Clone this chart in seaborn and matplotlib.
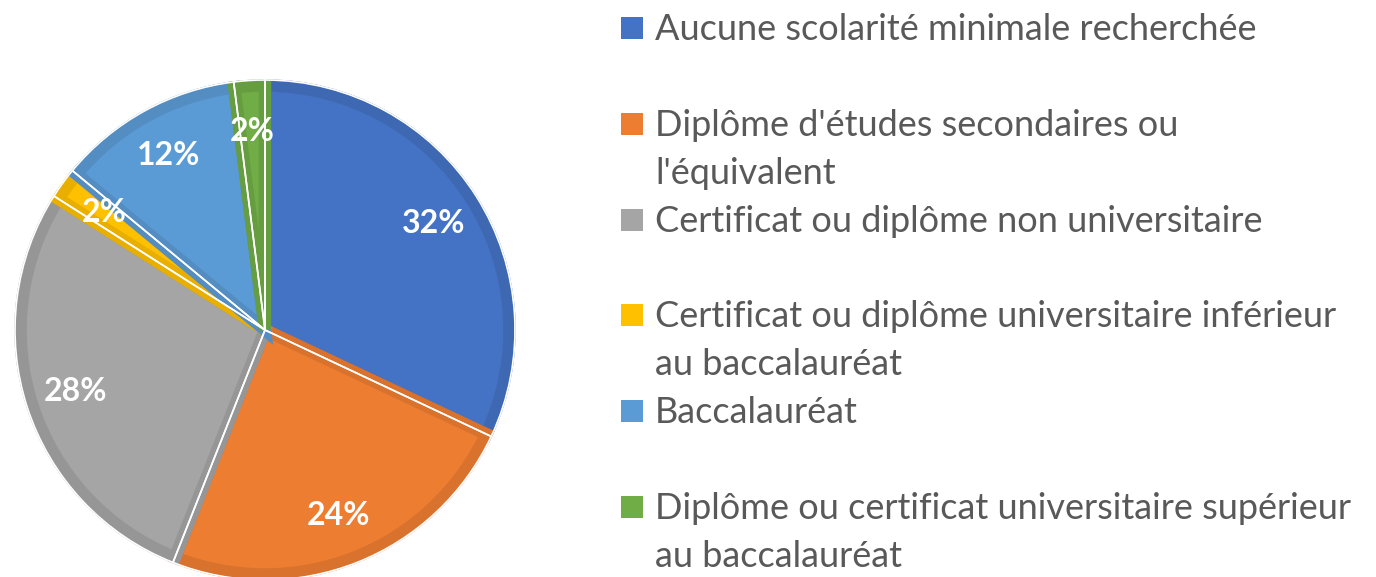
import matplotlib
matplotlib.use("Agg")
import matplotlib.pyplot as plt
from matplotlib.patches import Rectangle
import seaborn as sns

sns.set_theme(style="white")
plt.rcParams['font.family'] = ['Lato', 'DejaVu Sans']

# data
categories = [
    "Aucune scolarité minimale recherchée",
    "Diplôme d'études secondaires ou\nl'équivalent",
    "Certificat ou diplôme non universitaire",
    "Certificat ou diplôme universitaire inférieur\nau baccalauréat",
    "Baccalauréat",
    "Diplôme ou certificat universitaire supérieur\nau baccalauréat",
]
shares = [32, 24, 28, 2, 12, 2]
colors = ["#4472C4", "#ED7D31", "#A5A5A5", "#FFC000", "#5B9BD5", "#70AD47"]
palette = sns.color_palette(colors)
borders = [tuple(c * 0.91 for c in col) for col in palette]

W, H = 1376, 577
fig = plt.figure(figsize=(W / 100, H / 100), dpi=100)

# pie
cx, cy, r = 265, 330, 249
ax = fig.add_axes([(cx - r) / W, (H - cy - r) / H, 2 * r / W, 2 * r / H])

bw = 9 / r
wedges, texts, autotexts = ax.pie(
    shares, colors=palette, startangle=90, counterclock=False,
    radius=1 - bw / 2, autopct='%d%%', pctdistance=0.8 / (1 - bw / 2),
    wedgeprops=dict(linewidth=9, edgecolor='none'),
    textprops=dict(color='white', fontsize=23, fontweight='bold'))
for w, b in zip(wedges, borders):
    w.set_edgecolor(b)
ax.pie(shares, colors=['none'] * len(shares), startangle=90, counterclock=False,
       radius=1.004, wedgeprops=dict(linewidth=1.2, edgecolor='white', fill=False))
ax.set_xlim(-1, 1)
ax.set_ylim(-1, 1)
ax.set_aspect('equal')
ax.axis('off')

# legend drawn on a pixel-space overlay
lg = fig.add_axes([0, 0, 1, 1])
lg.set_xlim(0, W)
lg.set_ylim(H, 0)
lg.axis('off')
line0, step = 28, 47.9
for i, (lab, col) in enumerate(zip(categories, palette)):
    y = line0 + 2 * i * step
    lg.add_patch(Rectangle((621, y - 11), 22, 22, color=col, lw=0))
    for j, part in enumerate(lab.split("\n")):
        lg.text(655, y + 12 + j * step, part, fontsize=26, color='#595959',
                va='baseline', ha='left')

fig.savefig("out.png", dpi=100)
